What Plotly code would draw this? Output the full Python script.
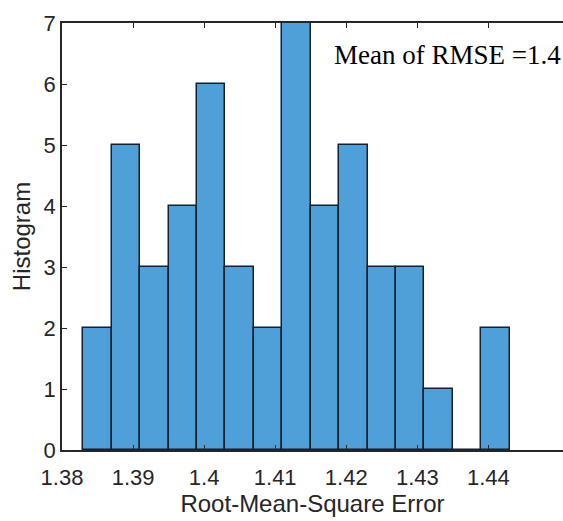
import plotly.graph_objects as go

# Histogram data (bin edges and counts)
bin_edges = [1.383, 1.387, 1.391, 1.395, 1.399, 1.403, 1.407, 1.411,
             1.415, 1.419, 1.423, 1.427, 1.431, 1.435, 1.439, 1.443]
counts = [2, 5, 3, 4, 6, 3, 2, 7, 4, 5, 3, 3, 1, 0, 2]
x_ticks = [1.38, 1.39, 1.40, 1.41, 1.42, 1.43, 1.44]
x_tick_labels = ["1.38", "1.39", "1.4", "1.41", "1.42", "1.43", "1.44"]
y_ticks = [0, 1, 2, 3, 4, 5, 6, 7]
annotation_text = "Mean of RMSE =1.4"

centers = [(a + b) / 2 for a, b in zip(bin_edges[:-1], bin_edges[1:])]
widths = [b - a for a, b in zip(bin_edges[:-1], bin_edges[1:])]

fig = go.Figure()
fig.add_trace(go.Bar(
    x=centers, y=counts, width=widths,
    marker=dict(color="#4f9fd8", line=dict(color="#15202e", width=1.5)),
    showlegend=False,
))

axis_font = dict(family="Arial, Liberation Sans, sans-serif", size=22, color="#262626")
fig.update_layout(
    width=563, height=521,
    margin=dict(l=62, r=0, t=23, b=71),
    paper_bgcolor="white", plot_bgcolor="white",
    bargap=0,
    xaxis=dict(
        range=[1.38, 1.4505], tickvals=x_ticks, ticktext=x_tick_labels,
        ticks="inside", ticklen=5, tickcolor="#262626", tickwidth=1,
        showline=True, linecolor="#262626", linewidth=1.5, mirror="ticks",
        showgrid=False, zeroline=False, tickfont=axis_font,
        ticklabelstandoff=7,
        title=dict(text="Root-Mean-Square Error",
                   font=dict(family="Arial, Liberation Sans, sans-serif", size=24, color="#262626"),
                   standoff=6),
    ),
    yaxis=dict(
        range=[0, 7], tickvals=y_ticks,
        ticks="inside", ticklen=5, tickcolor="#262626", tickwidth=1,
        showline=True, linecolor="#262626", linewidth=1.5, mirror=False,
        showgrid=False, zeroline=False, tickfont=axis_font,
        title=dict(text="Histogram",
                   font=dict(family="Arial, Liberation Sans, sans-serif", size=24, color="#262626"),
                   standoff=6),
    ),
    annotations=[dict(
        text=annotation_text, xref="paper", yref="paper",
        x=1.0, y=0.925, xanchor="right", yanchor="middle", showarrow=False,
        font=dict(family="Liberation Serif, Times New Roman, serif", size=27, color="black"),
    )],
)

fig.write_html("out.html")
